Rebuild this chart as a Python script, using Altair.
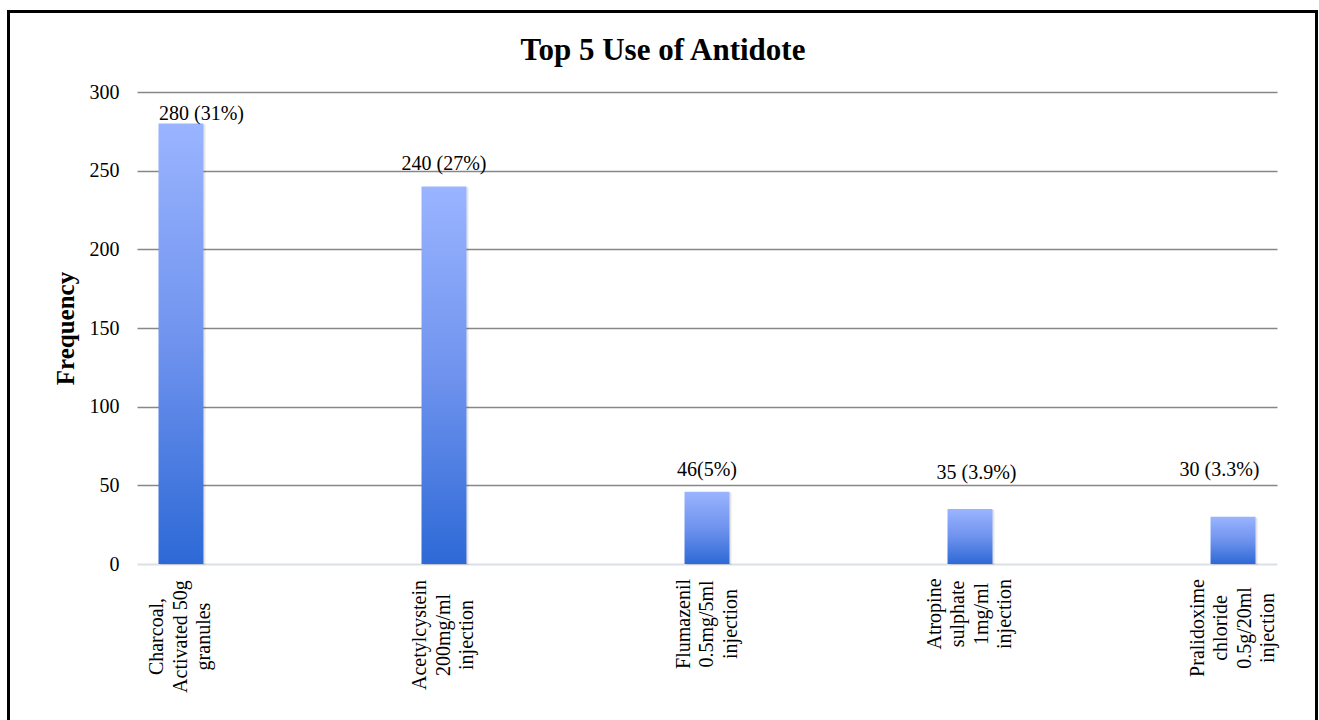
import altair as alt
import pandas as pd

# ---- data ----
categories = [
    "Charcoal,|Activated 50g|granules",
    "Acetylcystein|200mg/ml|injection",
    "Flumazenil|0.5mg/5ml|injection",
    "Atropine|sulphate|1mg/ml|injection",
    "Pralidoxime|chloride|0.5g/20ml|injection",
]
frequencies = [280, 240, 46, 35, 30]
bar_labels = ["280 (31%)", "240 (27%)", "46(5%)", "35 (3.9%)", "30 (3.3%)"]
y_ticks = [0, 50, 100, 150, 200, 250, 300]

df = pd.DataFrame({"drug": categories, "freq": frequencies, "label": bar_labels})

W, H = 1140, 472
FONT = "Liberation Serif"
LINE_H = 23.5

# per-label style offsets (pixels)
label_dx = [20.5, 0, 0, 6.5, -13.5]
label_dy = [-3, -16, -16, -30, -41]
axis_label_pad = [72, 70.5, 59.5, 49.5, 63.5]

label_pad_cond = {
    "condition": [
        {"test": f"datum.value == '{c}'", "value": p}
        for c, p in zip(categories, axis_label_pad)
    ],
    "value": 60,
}
# center multi-line label blocks on their bar
label_off_cond = {
    "condition": [
        {"test": "length(split(datum.value, '|')) == 4", "value": -1.5 * LINE_H},
    ],
    "value": -1.0 * LINE_H,
}

x_scale = alt.Scale(paddingInner=0.829, paddingOuter=0.0817)
y_scale = alt.Scale(domain=[0, 300], nice=False)

x_enc = alt.X(
    "drug:N",
    sort=categories,
    scale=x_scale,
    axis=alt.Axis(
        title=None,
        labelAngle=270,
        labelAlign="center",
        labelBaseline="middle",
        labelExpr="split(datum.label, '|')",
        labelLineHeight=LINE_H,
        labelPadding=label_pad_cond,
        labelOffset=label_off_cond,
        labelFont=FONT,
        labelFontSize=20,
        labelColor="#000000",
        ticks=False,
        domain=False,
        grid=False,
        labelLimit=0,
    ),
)
y_enc = alt.Y(
    "freq:Q",
    scale=y_scale,
    axis=alt.Axis(
        values=y_ticks,
        title="Frequency",
        titleFont=FONT,
        titleFontSize=25,
        titleFontWeight="bold",
        titleColor="#000000",
        titleAngle=270,
        titleAlign="center",
        titleBaseline="middle",
        titleX=-72,
        titleY=236,
        labelFont=FONT,
        labelFontSize=20,
        labelColor="#000000",
        labelPadding=18,
        ticks=False,
        domain=False,
        grid=True,
        gridColor={"condition": {"test": "datum.value === 0", "value": "#dbdfe8"}, "value": "#878787"},
        gridWidth={"condition": {"test": "datum.value === 0", "value": 2}, "value": 1.4},
    ),
)

gradient = alt.Gradient(
    gradient="linear",
    x1=0, y1=0, x2=0, y2=1,
    stops=[
        alt.GradientStop(color="#9ab4ff", offset=0),
        alt.GradientStop(color="#6f93ee", offset=0.5),
        alt.GradientStop(color="#2d69d6", offset=1),
    ],
)

base = alt.Chart(df)

shadow = base.mark_bar(color="#000000", opacity=0.10, xOffset=2, yOffset=1).encode(
    x=x_enc, y=y_enc,
)

bars = base.mark_bar(color=gradient).encode(x=x_enc, y=y_enc)

label_layers = []
for i, lab in enumerate(bar_labels):
    label_layers.append(
        base.transform_filter(alt.datum.label == lab)
        .mark_text(
            font=FONT, fontSize=20, color="#000000",
            align="center", baseline="alphabetic",
            dx=label_dx[i], dy=label_dy[i],
        )
        .encode(
            x=alt.X("drug:N", sort=categories),
            y=alt.Y("freq:Q"),
            text="label:N",
        )
    )

one = pd.DataFrame({"k": [0]})
title = alt.Chart(one).mark_text(
    text="Top 5 Use of Antidote", font=FONT, fontSize=31, fontWeight="bold",
    color="#000000", align="center", baseline="alphabetic",
).encode(x=alt.value(526), y=alt.value(-32))

frame = alt.Chart(one).mark_rect(
    fillOpacity=0, stroke="#000000", strokeWidth=3
).encode(
    x=alt.value(-128.5), x2=alt.value(1179.5),
    y=alt.value(-80.5), y2=alt.value(700),
)

chart = alt.layer(shadow, bars, *label_layers, title, frame).properties(
    width=W,
    height=H,
    autosize=alt.AutoSizeParams(type="none"),
    padding={"left": 137, "top": 92, "right": 42, "bottom": 156},
    background="#ffffff",
).configure_view(stroke=None)

chart.save("out.html", embed_options={"renderer": "svg", "actions": False})
